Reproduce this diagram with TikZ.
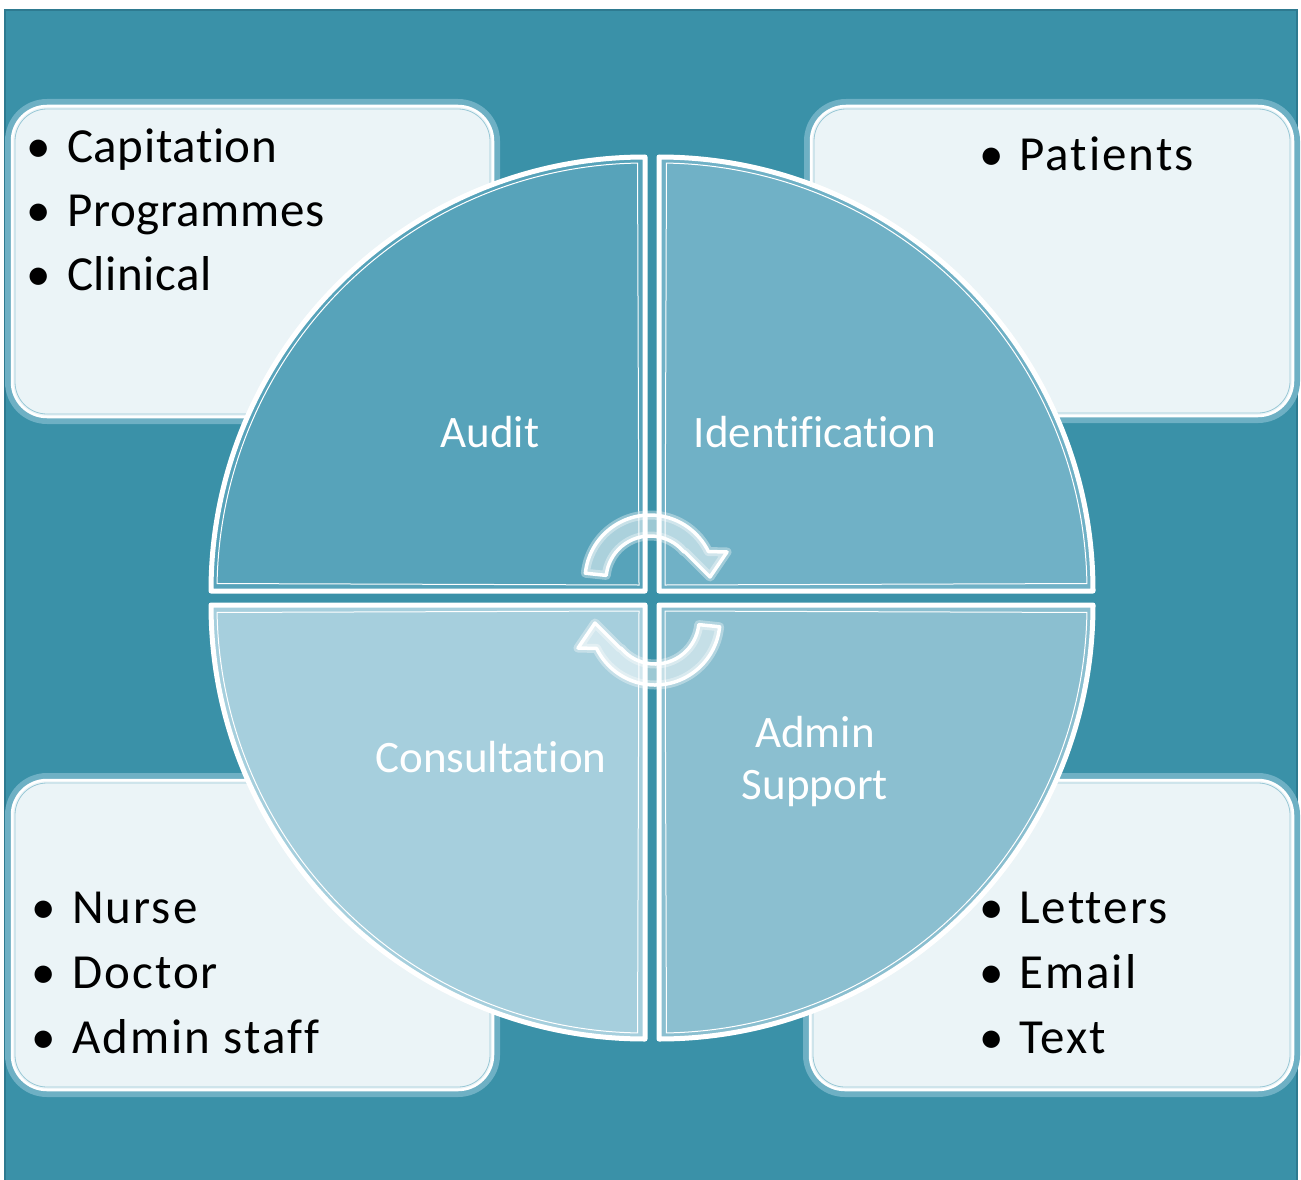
\documentclass[tikz,border=0pt]{standalone}
\usepackage{fontspec}
\setmainfont{Carlito}[Ligatures={NoCommon}]
\newfontfamily\tightfont{Carlito}[Ligatures={NoCommon},LetterSpace=1.2]
\newfontfamily\widefont{Carlito}[Ligatures={NoCommon},LetterSpace=4.2]
\usepackage{tikz}
\definecolor{bgteal}{HTML}{3A91A8}
\definecolor{bgedge}{HTML}{2E7A90}
\definecolor{glow}{HTML}{6EB0C4}
\definecolor{boxfill}{HTML}{EBF4F7}
\definecolor{quadA}{HTML}{57A3BA}
\definecolor{quadB}{HTML}{70B1C6}
\definecolor{quadC}{HTML}{A6CFDD}
\definecolor{quadD}{HTML}{8BBFD0}

\begin{document}
\begin{tikzpicture}[x=1pt,y=-1pt,
    halo/.style={draw=glow,line width=14pt,rounded corners=35pt},
    box/.style={fill=boxfill,draw=white,line width=2.5pt,rounded corners=35pt},
    boxline/.style={draw=glow!70!white,line width=0.8pt,rounded corners=32pt},
    quad/.style={draw=white,line width=5pt,line join=round},
    quadline/.style={draw=white,line width=1pt},
    cycglow/.style={draw=white,line width=9pt,draw opacity=0.35,line join=round},
    cyc/.style={draw=white,line width=3.5pt,fill=white,fill opacity=0.5,line join=round},
    lbl/.style={text=white,inner sep=0pt,anchor=base,font=\fontsize{45}{54}\selectfont},
    item/.style={text=black,inner sep=0pt,anchor=base west,font=\widefont\fontsize{49}{58}\selectfont},
    tlitem/.style={item,font=\tightfont\fontsize{49}{58}\selectfont},
    bul/.style={text=black,inner sep=0pt,anchor=base,font=\fontsize{49}{58}\selectfont}]
  \useasboundingbox (0,0) rectangle (1301,1180);
  \fill[white] (0,0) rectangle (1301,1180);
  \filldraw[fill=bgteal,draw=bgedge,line width=1.5pt] (5,10) rectangle (1297,1181);
  % side boxes
  \foreach \xa/\ya/\xb/\yb in {12/106/493/417, 811/106/1293/416, 12/780/493/1090, 810/780/1293/1090} {
    \draw[halo] (\xa,\ya) rectangle (\xb,\yb);
    \filldraw[box] (\xa,\ya) rectangle (\xb,\yb);
    \draw[boxline] (\xa+3,\ya+3) rectangle (\xb-3,\yb-3);
  }
  % the four quarters
  \foreach \cx/\cy/\rot/\col in {645/591/0/quadA, 659/591/-90/quadB, 659/605/180/quadD, 645/605/90/quadC} {
    \begin{scope}[shift={(\cx,\cy)},rotate=\rot]
      \filldraw[quad,fill=\col] (0,0) -- (-434,0) arc[start angle=180,end angle=270,radius=434] -- cycle;
      \draw[quadline] (-6,-6) -- (181:428) arc[start angle=181,end angle=269,radius=428] -- cycle;
    \end{scope}
  }
  % cycle arrows
  \foreach \r in {0,180} {
    \foreach \s in {cycglow,cyc}
      \path[\s,rotate around={\r:(652.5,600)}] (650,580) ++(186:65)
        arc[start angle=186,end angle=334,radius=65] -- (727,552) -- (710,577) -- (685,552)
        -- ([shift={(650,580)}]320:44) arc[start angle=320,end angle=186,radius=44] -- cycle;
  }
  \node[lbl] (audit) at (490,447) {Audit};
  \node[lbl] (ident) at (815,447) {Identification};
  \node[lbl] (consult) at (491,772) {Consultation};
  \node[lbl] (admin) at (815,747) {Admin};
  \node[lbl] (support) at (815,799) {Support};
  % bullet lists
  \foreach \t [count=\i] in {Capitation,Programmes,Clinical} {
    \node[bul] (tl-b\i) at (39,{163+63.5*(\i-1)}) {•};
    \node[tlitem] (tl-\i) at (67,{163+63.5*(\i-1)}) {\t};
  }
  \node[bul] (tr-b1) at (992,170) {•};
  \node[item] (tr-1) at (1019,170) {Patients};
  \foreach \t [count=\i] in {Nurse,Doctor,Admin staff} {
    \node[bul] (bl-b\i) at (44,{923+65*(\i-1)}) {•};
    \node[item] (bl-\i) at (72,{923+65*(\i-1)}) {\t};
  }
  \foreach \t [count=\i] in {Letters,Email,Text} {
    \node[bul] (br-b\i) at (992,{923+65*(\i-1)}) {•};
    \node[item] (br-\i) at (1019,{923+65*(\i-1)}) {\t};
  }
\end{tikzpicture}
\end{document}
